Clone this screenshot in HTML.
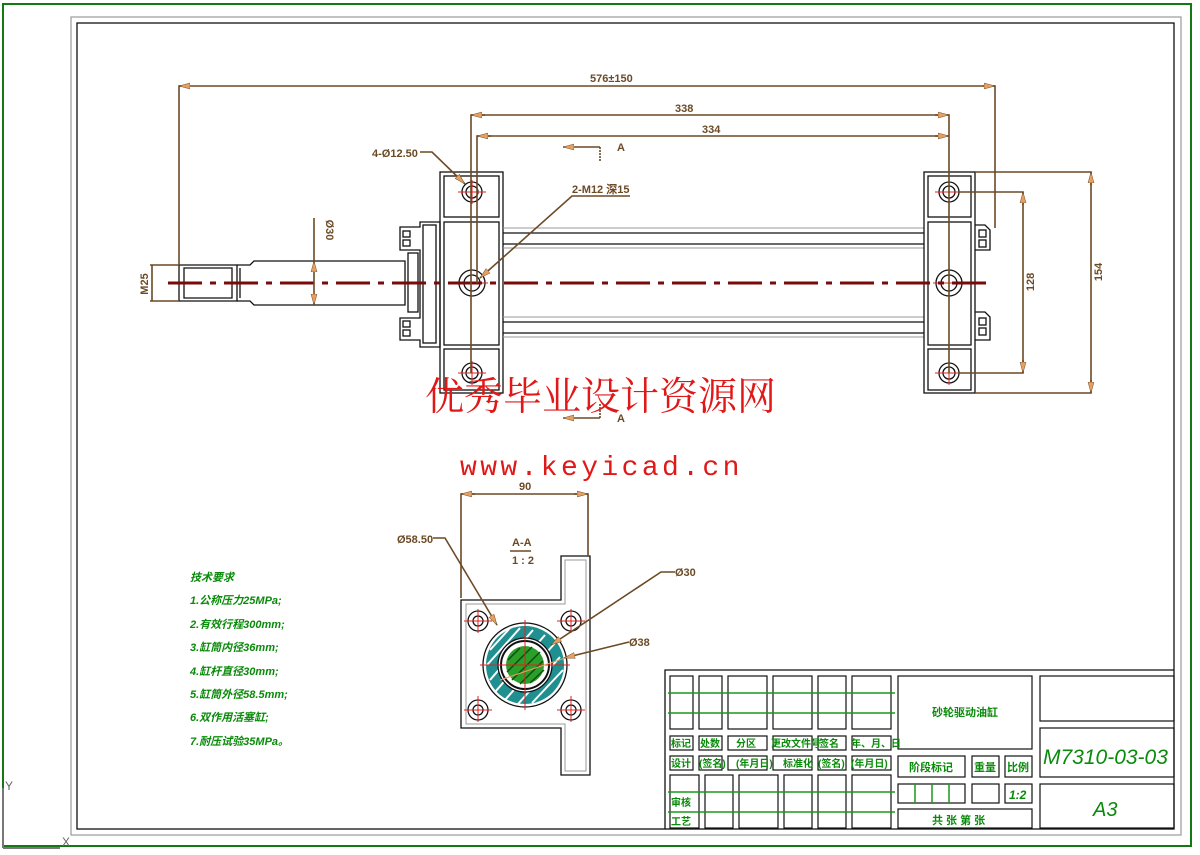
<!DOCTYPE html>
<html><head><meta charset="utf-8"><style>
html,body{margin:0;padding:0;background:#fff;}
svg{display:block;}
.o{fill:none;stroke:#111;stroke-width:1.3}
.g{fill:none;stroke:#999;stroke-width:1}
.d{fill:none;stroke:#6b4a26;stroke-width:1.6}
.dt{font-family:"Liberation Sans",sans-serif;font-size:11px;fill:#6b4a26;font-weight:bold}
.gt{font-family:"Liberation Sans","Noto Sans CJK SC",sans-serif;font-size:10px;fill:#0a8a0a;font-weight:bold}
.tb{fill:none;stroke:#111;stroke-width:1.2}
.gl{stroke:#1a9a1a;stroke-width:1.5}
</style></head><body>
<svg width="1200" height="855" viewBox="0 0 1200 855" xmlns="http://www.w3.org/2000/svg">
<defs>
<marker id="ar" markerWidth="12" markerHeight="8" refX="11" refY="4" orient="auto" markerUnits="userSpaceOnUse"><path d="M0,1 L11,4 L0,7 Z" fill="#e8a060" stroke="#6b4a26" stroke-width="0.5"/></marker>
</defs>
<rect x="3" y="4" width="1188" height="842" fill="none" stroke="#137a13" stroke-width="2"/>
<rect x="71" y="17" width="1110" height="818" fill="none" stroke="#999" stroke-width="1.2"/>
<rect x="77" y="23" width="1097" height="806" fill="none" stroke="#111" stroke-width="1.3"/>
<path d="M3,788 V848 M3,848 H60" stroke="#777" stroke-width="2" fill="none"/>
<text x="5" y="790" font-family="Liberation Sans,sans-serif" font-size="12" fill="#666">Y</text>
<text x="62" y="846" font-family="Liberation Sans,sans-serif" font-size="12" fill="#666">X</text>

<path class="o" d="M179,265 H237 V301 H179 Z"/>
<path class="o" d="M184,268 H232 V298 H184 Z"/>
<path class="o" d="M237,265 H250 L254,261 H405 V305 H254 L250,301 H237"/>
<path class="o" d="M240,268 V298"/>
<rect class="o" x="408" y="253" width="10" height="59"/>
<path class="o" d="M420,222 H440 V347 H420 V340 H400 V318 H420 V250 H400 V227 H420 Z"/>
<rect class="o" x="403" y="231" width="7" height="6"/><rect class="o" x="403" y="240" width="7" height="6"/>
<rect class="o" x="403" y="321" width="7" height="6"/><rect class="o" x="403" y="330" width="7" height="6"/>
<rect class="o" x="423" y="225" width="13" height="118"/>
<rect class="o" x="440" y="172" width="63" height="221"/>
<rect class="o" x="444" y="176" width="55" height="41"/>
<rect class="o" x="444" y="222" width="55" height="123"/>
<rect class="o" x="444" y="349" width="55" height="41"/>
<path class="o" d="M503,233 H924 M503,244 H924 M503,322 H924 M503,333 H924"/>
<path class="g" d="M503,228 H924 M503,248 H924 M503,317 H924 M503,337 H924"/>
<rect class="o" x="924" y="172" width="51" height="221"/>
<rect class="o" x="928" y="176" width="43" height="41"/>
<rect class="o" x="928" y="222" width="43" height="123"/>
<rect class="o" x="928" y="349" width="43" height="41"/>
<path class="o" d="M975,225 H985 L990,230 V250 H975 M975,312 H985 L990,317 V340 H975"/>
<rect class="o" x="979" y="230" width="7" height="7"/><rect class="o" x="979" y="240" width="7" height="7"/>
<rect class="o" x="979" y="318" width="7" height="7"/><rect class="o" x="979" y="328" width="7" height="7"/>
<g fill="none" stroke="#111" stroke-width="1.3">
<circle cx="472" cy="192" r="10"/><circle cx="472" cy="192" r="6"/>
<circle cx="472" cy="283" r="13"/><circle cx="472" cy="283" r="8"/>
<circle cx="472" cy="373" r="10"/><circle cx="472" cy="373" r="6"/>
<circle cx="949" cy="192" r="10"/><circle cx="949" cy="192" r="6"/>
<circle cx="949" cy="283" r="13"/><circle cx="949" cy="283" r="8"/>
<circle cx="949" cy="373" r="10"/><circle cx="949" cy="373" r="6"/>
</g>
<g stroke="#e02020" stroke-width="1">
<path d="M458,192 H486 M472,180 V204 M456,283 H488 M458,373 H486 M472,361 V385"/>
<path d="M935,192 H963 M949,180 V204 M933,283 H965 M935,373 H963 M949,361 V385"/>
</g>
<path d="M168,283 H992" stroke="#7a0a0a" stroke-width="3" stroke-dasharray="34,8,6,8" fill="none"/>
<path class="d" d="M179,265 V86 H995 V228"/>
<path class="d" d="M190,86 H179" marker-end="url(#ar)"/>
<path class="d" d="M983,86 H995" marker-end="url(#ar)"/>
<path class="d" d="M471,373 V115 H949 V373"/>
<path class="d" d="M485,115 H471" marker-end="url(#ar)"/><path class="d" d="M935,115 H949" marker-end="url(#ar)"/>
<path class="d" d="M477,283 V136 H949"/>
<path class="d" d="M491,136 H477" marker-end="url(#ar)"/><path class="d" d="M935,136 H949" marker-end="url(#ar)"/>
<text class="dt" x="590" y="82">576±150</text>
<text class="dt" x="675" y="112">338</text>
<text class="dt" x="702" y="133">334</text>
<path class="d" d="M958,192 H1023 V373 H958"/>
<path class="d" d="M1023,205 V192" marker-end="url(#ar)"/><path class="d" d="M1023,360 V373" marker-end="url(#ar)"/>
<text class="dt" transform="translate(1034,282) rotate(-90)" text-anchor="middle">128</text>
<path class="d" d="M975,172 H1091 V393 H975"/>
<path class="d" d="M1091,185 V172" marker-end="url(#ar)"/><path class="d" d="M1091,380 V393" marker-end="url(#ar)"/>
<text class="dt" transform="translate(1102,272) rotate(-90)" text-anchor="middle">154</text>
<path class="d" d="M314,218 V305"/>
<path class="d" d="M314,272 V261" marker-end="url(#ar)"/><path class="d" d="M314,294 V305" marker-end="url(#ar)"/>
<text class="dt" transform="translate(326,230) rotate(90)" text-anchor="middle">Ø30</text>
<path class="d" d="M150,265 H179 M150,301 H179 M152,265 V301"/>
<text class="dt" transform="translate(148,284) rotate(-90)" text-anchor="middle">M25</text>
<text class="dt" x="372" y="157">4-Ø12.50</text>
<path class="d" d="M420,152 H432 L465,184" marker-end="url(#ar)"/>
<text class="dt" x="572" y="193">2-M12 深15</text>
<path class="d" d="M630,196 H572 L480,278" marker-end="url(#ar)"/>
<path class="d" d="M600,147 H563" marker-end="url(#ar)"/><path class="d" d="M600,147 V162" stroke-dasharray="2,1"/>
<text class="dt" x="617" y="151">A</text>
<path class="d" d="M600,418 H563" marker-end="url(#ar)"/><path class="d" d="M600,418 V404" stroke-dasharray="2,1"/>
<text class="dt" x="617" y="422">A</text>

<path class="o" d="M461,600 H561 V556 H590 V775 H561 V728 H461 Z"/>
<path class="g" d="M466,604 H565 V560 H586 V771 H565 V724 H466 Z"/>
<g fill="none" stroke="#111" stroke-width="1.3">
<circle cx="478" cy="621" r="10"/><circle cx="571" cy="621" r="10"/><circle cx="478" cy="710" r="10"/><circle cx="571" cy="710" r="10"/>
<circle cx="478" cy="621" r="5"/><circle cx="571" cy="621" r="5"/><circle cx="478" cy="710" r="5"/><circle cx="571" cy="710" r="5"/>
</g>
<circle cx="525" cy="665" r="42" fill="#fff" stroke="#111" stroke-width="1.3"/>
<circle cx="525" cy="665" r="39" fill="#1f8f8f"/>
<g stroke="#fff" stroke-width="2">
<path d="M490,650 L510,628 M487,665 L520,628 M490,680 L533,630 M495,692 L545,635 M505,700 L555,643 M518,704 L560,657 M532,703 L563,670"/>
</g>
<circle cx="525" cy="665" r="27" fill="#fff" stroke="#111" stroke-width="1.3"/>
<circle cx="525" cy="665" r="24" fill="none" stroke="#111" stroke-width="2"/>
<circle cx="525" cy="665" r="19" fill="#2aa02a"/>
<g stroke="#0c4f0c" stroke-width="1.5"><path d="M508,660 L520,648 M507,672 L532,647 M512,680 L540,652 M520,684 L543,661 M530,683 L544,670"/></g>
<g stroke="#e02020" stroke-width="1"><path d="M480,665 H570 M525,620 V710 M464,621 H492 M478,609 V633 M557,621 H585 M571,609 V633 M464,710 H492 M478,696 V722 M557,710 H585 M571,696 V722"/></g>
<path class="d" d="M461,598 V494 H588 V556"/>
<path class="d" d="M475,494 H461" marker-end="url(#ar)"/><path class="d" d="M574,494 H588" marker-end="url(#ar)"/>
<text class="dt" x="519" y="490">90</text>
<text class="dt" x="512" y="546">A-A</text>
<path d="M510,551 H531" stroke="#6b4a26" stroke-width="1.5"/>
<text class="dt" x="512" y="564">1 : 2</text>
<text class="dt" x="397" y="543">Ø58.50</text>
<path class="d" d="M433,538 H445 L497,625" marker-end="url(#ar)"/>
<text class="dt" x="675" y="576">Ø30</text>
<path class="d" d="M675,572 H661 L551,645" marker-end="url(#ar)"/>
<text class="dt" x="629" y="646">Ø38</text>
<path class="d" d="M629,642 L564,658" marker-end="url(#ar)"/>
<path d="M565,658 L500,680" stroke="#e8a060" stroke-width="1"/>

<text x="425" y="410" font-family="'Noto Serif CJK SC','Noto Sans CJK SC',serif" font-size="39" fill="#e01818">优秀毕业设计资源网</text>
<text x="460" y="475" font-family="'Liberation Mono',monospace" font-size="28" letter-spacing="3.4" fill="#e01818">www.keyicad.cn</text>

<g class="gt" font-style="italic" style="font-size:11px">
<text x="190" y="581">技术要求</text>
<text x="190" y="604">1.公称压力25MPa;</text>
<text x="190" y="628">2.有效行程300mm;</text>
<text x="190" y="651">3.缸筒内径36mm;</text>
<text x="190" y="675">4.缸杆直径30mm;</text>
<text x="190" y="698">5.缸筒外径58.5mm;</text>
<text x="190" y="721">6.双作用活塞缸;</text>
<text x="190" y="745">7.耐压试验35MPa。</text>
</g>

<path d="M665,829 V670 H1174" stroke="#111" stroke-width="1.3" fill="none"/>
<g class="tb">
<rect x="670" y="676" width="23" height="53"/><rect x="699" y="676" width="23" height="53"/><rect x="728" y="676" width="39" height="53"/><rect x="773" y="676" width="39" height="53"/><rect x="818" y="676" width="28" height="53"/><rect x="852" y="676" width="39" height="53"/>
<rect x="670" y="736" width="23" height="14"/><rect x="699" y="736" width="23" height="14"/><rect x="728" y="736" width="39" height="14"/><rect x="773" y="736" width="39" height="14"/><rect x="818" y="736" width="28" height="14"/><rect x="852" y="736" width="39" height="14"/>
<rect x="670" y="756" width="23" height="14"/><rect x="699" y="756" width="23" height="14"/><rect x="728" y="756" width="39" height="14"/><rect x="773" y="756" width="39" height="14"/><rect x="818" y="756" width="28" height="14"/><rect x="852" y="756" width="39" height="14"/>
<rect x="670" y="775" width="29" height="53"/><rect x="705" y="775" width="28" height="53"/><rect x="739" y="775" width="39" height="53"/><rect x="784" y="775" width="28" height="53"/><rect x="818" y="775" width="28" height="53"/><rect x="852" y="775" width="39" height="53"/>
<rect x="898" y="676" width="134" height="73"/>
<rect x="1040" y="676" width="134" height="45"/><rect x="1040" y="728" width="134" height="49"/><rect x="1040" y="784" width="134" height="44"/>
<rect x="898" y="756" width="67" height="21"/><rect x="972" y="756" width="27" height="21"/><rect x="1005" y="756" width="27" height="21"/>
<rect x="898" y="784" width="67" height="19"/><rect x="972" y="784" width="27" height="19"/><rect x="1005" y="784" width="27" height="19"/>
<rect x="898" y="809" width="134" height="19"/>
</g>
<g class="gl">
<path d="M668,693 H895 M668,713 H895 M668,792 H895 M668,812 H895 M915,784 V803 M932,784 V803 M949,784 V803"/>
</g>
<g class="gt" style="font-size:10px">
<text x="671" y="747">标记</text><text x="700" y="747">处数</text><text x="736" y="747">分区</text><text x="771" y="747">更改文件号</text><text x="819" y="747">签名</text><text x="851" y="747">年、月、日</text>
<text x="671" y="767">设计</text><text x="699" y="767">(签名)</text><text x="736" y="767">(年月日)</text><text x="783" y="767">标准化</text><text x="818" y="767">(签名)</text><text x="851" y="767">(年月日)</text>
<text x="671" y="806">审核</text><text x="671" y="825">工艺</text>
<text x="932" y="716" style="font-size:11px">砂轮驱动油缸</text>
<text x="909" y="771" style="font-size:11px">阶段标记</text><text x="974" y="771" style="font-size:11px">重量</text><text x="1007" y="771" style="font-size:11px">比例</text>
<text x="1009" y="799" font-style="italic" style="font-size:12px">1:2</text>
<text x="932" y="824" style="font-size:11px">共  张  第  张</text>
<text x="1043" y="764" font-style="italic" style="font-size:21px;font-weight:normal">M7310-03-03</text>
<text x="1093" y="816" font-style="italic" style="font-size:20px;font-weight:normal">A3</text>
</g>
</svg>
</body></html>
